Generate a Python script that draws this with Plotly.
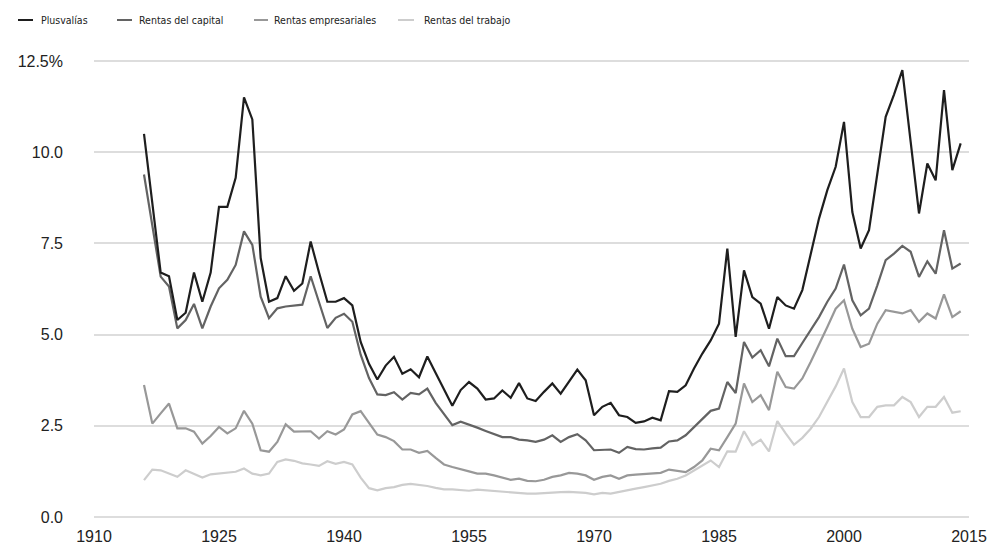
import plotly.graph_objects as go

# Years covered by the series
years = list(range(1916, 2015))

# Income share of the top group, by income source (%)
plusvalias = [
    10.5, 8.6, 6.7, 6.6, 5.4, 5.6, 6.7, 5.9, 6.7, 8.5,
    8.5, 9.3, 11.5, 10.9, 7.1, 5.9, 6.0, 6.6, 6.2, 6.4,
    7.55, 6.7, 5.9, 5.9, 6.0, 5.8, 4.8, 4.2, 3.77, 4.15,
    4.39, 3.93, 4.05, 3.83, 4.4, 3.95, 3.5, 3.05, 3.48, 3.7,
    3.52, 3.22, 3.25, 3.47, 3.27, 3.67, 3.25, 3.18, 3.43, 3.66,
    3.38, 3.7, 4.04, 3.75, 2.79, 3.02, 3.13, 2.79, 2.74, 2.58,
    2.62, 2.72, 2.65, 3.45, 3.43, 3.61, 4.07, 4.48, 4.84, 5.3,
    7.36, 4.94, 6.76, 6.03, 5.85, 5.16, 6.03, 5.8, 5.71, 6.22,
    7.18, 8.18, 8.96, 9.6, 10.83, 8.36, 7.36, 7.86, 9.41, 10.97,
    11.58, 12.25, 10.28, 8.32, 9.69, 9.23, 11.7, 9.51, 10.24,
]
rentas_capital = [
    9.39, 8.0, 6.59, 6.32, 5.17, 5.4, 5.84, 5.17, 5.77, 6.27,
    6.5, 6.91, 7.83, 7.46, 6.04, 5.45, 5.72, 5.77, 5.79, 5.82,
    6.6, 5.91, 5.18, 5.46, 5.57, 5.35, 4.45, 3.81, 3.36, 3.34,
    3.42, 3.22, 3.4, 3.36, 3.52, 3.13, 2.81, 2.52, 2.61, 2.54,
    2.45, 2.36, 2.27, 2.19, 2.19, 2.12, 2.1, 2.06, 2.12, 2.24,
    2.06, 2.19, 2.27, 2.1, 1.83, 1.83, 1.85, 1.76, 1.92, 1.86,
    1.85, 1.88, 1.9, 2.07, 2.1, 2.24, 2.47, 2.7, 2.91, 2.97,
    3.7, 3.4, 4.8, 4.37, 4.57, 4.13, 4.89, 4.41, 4.41, 4.77,
    5.12, 5.48, 5.9, 6.26, 6.92, 5.94, 5.53, 5.71, 6.35, 7.04,
    7.22, 7.43, 7.27, 6.58, 7.01, 6.67, 7.86, 6.81, 6.95,
]
rentas_empresariales = [
    3.62, 2.56, 2.84, 3.11, 2.43, 2.43, 2.34, 2.01, 2.22, 2.47,
    2.29, 2.43, 2.91, 2.56, 1.83, 1.79, 2.06, 2.54, 2.34, 2.34,
    2.35, 2.15, 2.35, 2.26, 2.4, 2.81, 2.9, 2.58, 2.26, 2.19,
    2.08, 1.85, 1.85, 1.76, 1.81, 1.62, 1.44, 1.37, 1.3, 1.25,
    1.19, 1.19, 1.14, 1.08, 1.02, 1.05, 0.99, 0.98, 1.02, 1.1,
    1.14, 1.21, 1.19, 1.14, 1.02, 1.1, 1.14, 1.05, 1.14, 1.16,
    1.17, 1.19, 1.21, 1.3, 1.26, 1.23, 1.37, 1.55, 1.87, 1.83,
    2.19, 2.56, 3.66, 3.15, 3.34, 2.93, 3.98, 3.56, 3.52, 3.8,
    4.25, 4.71, 5.21, 5.71, 5.94, 5.16, 4.66, 4.75, 5.3, 5.67,
    5.62, 5.58, 5.67, 5.35, 5.58, 5.44, 6.1, 5.48, 5.64,
]
rentas_trabajo = [
    1.01, 1.3, 1.28, 1.19, 1.1, 1.28, 1.17, 1.08, 1.17, 1.19,
    1.22, 1.24, 1.33, 1.19, 1.14, 1.19, 1.51, 1.58, 1.54, 1.47,
    1.44, 1.4, 1.53, 1.46, 1.51, 1.44, 1.08, 0.79, 0.73, 0.79,
    0.82, 0.88, 0.91, 0.89, 0.85, 0.8, 0.76, 0.76, 0.75, 0.72,
    0.75, 0.73, 0.71, 0.69, 0.66, 0.66, 0.64, 0.64, 0.66, 0.66,
    0.68, 0.69, 0.68, 0.66, 0.62, 0.66, 0.64, 0.69, 0.75, 0.78,
    0.82, 0.87, 0.91, 0.99, 1.05, 1.14, 1.28, 1.42, 1.55, 1.37,
    1.8, 1.79, 2.35, 1.97, 2.12, 1.8, 2.63, 2.29, 1.98, 2.17,
    2.42, 2.74, 3.15, 3.58, 4.07, 3.15, 2.74, 2.74, 3.02, 3.06,
    3.06, 3.29, 3.15, 2.74, 3.02, 3.02, 3.29, 2.86, 2.9,
]

series_names = ["Plusvalías", "Rentas del capital", "Rentas empresariales", "Rentas del trabajo"]
series_values = [plusvalias, rentas_capital, rentas_empresariales, rentas_trabajo]
series_colors = ["#1e1e1e", "#636363", "#989898", "#cdcdcd"]

x_range = [1910, 2015]
x_tickvals = [1910, 1925, 1940, 1955, 1970, 1985, 2000, 2015]
y_tickvals = [0, 2.5, 5, 7.5, 10, 12.5]
y_ticktext = ["0.0", "2.5", "5.0", "7.5", "10.0", "12.5%"]

W, H = 1005, 544
L, R, T, B = 94, 36, 57, 23
GRID_COLOR = "#dddddd"

# Pad the value axis by 4 px on each side so the end rules sit inside the plot
plot_h = H - T - B
pad = 4 * (y_tickvals[-1] - y_tickvals[0]) / (plot_h - 8)
y_range = [y_tickvals[0] - pad, y_tickvals[-1] + pad]

fig = go.Figure()

# Rules at the bottom and top ticks, drawn as plain lines under the data
for yv in (y_tickvals[0], y_tickvals[-1]):
    fig.add_trace(go.Scatter(
        x=x_range, y=[yv, yv], mode="lines",
        line=dict(color=GRID_COLOR, width=2),
        hoverinfo="skip", showlegend=False,
    ))

# Draw lighter series first so the darker lines sit on top
for name, vals, color in reversed(list(zip(series_names, series_values, series_colors))):
    fig.add_trace(go.Scatter(
        x=years, y=vals, name=name, mode="lines",
        line=dict(color=color, width=2.2),
        showlegend=False,
    ))

# Compact legend row along the top: short swatch + label
def px_x(px):
    return (px - L) / (W - L - R)

def px_y(py):
    return (H - B - py) / (H - T - B)

legend_items = [(18, 33, 39), (117, 132, 137), (254, 268, 272), (398, 414, 422)]
for (x0, x1, tx), name, color in zip(legend_items, series_names, series_colors):
    fig.add_shape(type="line", xref="paper", yref="paper",
                  x0=px_x(x0), x1=px_x(x1), y0=px_y(20), y1=px_y(20),
                  line=dict(color=color, width=2))
    fig.add_annotation(xref="paper", yref="paper", x=px_x(tx), y=px_y(20),
                       text=name, showarrow=False, xanchor="left", yanchor="middle",
                       font=dict(size=10.5, color="#222222",
                                 family="Liberation Sans Narrow, DejaVu Sans Condensed, Roboto, sans-serif"))

fig.update_layout(
    width=W, height=H,
    margin=dict(l=L, r=R, t=T, b=B),
    paper_bgcolor="white", plot_bgcolor="white",
    font=dict(family="Liberation Sans, Arial, sans-serif", color="#222222"),
    xaxis=dict(
        range=x_range, tickvals=x_tickvals,
        showgrid=False, zeroline=False, showline=False,
        tickfont=dict(size=16, color="#222222"),
        ticks="", ticklabelstandoff=4, automargin=False,
    ),
    yaxis=dict(
        range=y_range, tickvals=y_tickvals, ticktext=y_ticktext,
        showgrid=True, gridcolor=GRID_COLOR, gridwidth=2,
        zeroline=False, showline=False,
        tickfont=dict(size=16, color="#222222"),
        ticks="", ticklabelstandoff=30, automargin=False,
    ),
)

fig.write_html("out.html")
